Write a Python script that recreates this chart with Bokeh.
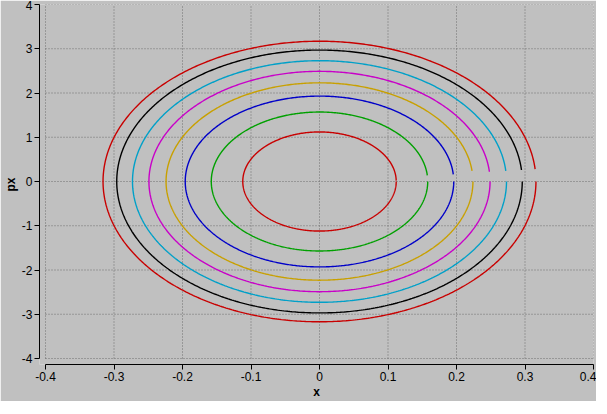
import numpy as np
from bokeh.plotting import figure
from bokeh.models import Range1d, FixedTicker
from bokeh.embed import file_html
from bokeh.resources import INLINE

# ---- data ----
x_amp = [0.112, 0.158, 0.196, 0.224, 0.249, 0.273, 0.296, 0.316]
p_amp = [1.12, 1.57, 1.93, 2.23, 2.49, 2.73, 2.97, 3.17]
p_end = [0.02, 0.14, 0.16, 0.24, 0.22, 0.24, 0.26, 0.28]
colors = ["#c80000", "#00a000", "#0000c8", "#c8a000", "#c800c8", "#00a0c8", "#000000", "#c80000"]

x_ticks = [-0.4, -0.3, -0.2, -0.1, 0.0, 0.1, 0.2, 0.3, 0.4]
x_tick_labels = ["-0.4", "-0.3", "-0.2", "-0.1", "0", "0.1", "0.2", "0.3", "0.4"]
y_ticks = [-4, -3, -2, -1, 0, 1, 2, 3, 4]
y_tick_labels = ["-4", "-3", "-2", "-1", "0", "1", "2", "3", "4"]

# ---- layout ----
BG = "#c0c0c0"
BL, BR, BT, BB = 34, 3, 4, 34
FW, FH = 591 - BL - BR, 398 - BT - BB
OFF = 6  # axis offset from data area, px

xs = (FW - OFF) / (x_ticks[-1] - x_ticks[0])
ys = (FH - OFF) / (y_ticks[-1] - y_ticks[0])
x_range = Range1d(x_ticks[0] - OFF / xs, x_ticks[-1])
y_range = Range1d(y_ticks[0] - OFF / ys, y_ticks[-1])

p = figure(frame_width=FW, frame_height=FH, x_range=x_range, y_range=y_range,
           output_backend="svg", toolbar_location=None,
           min_border_left=BL, min_border_right=BR, min_border_top=BT, min_border_bottom=BB)
p.background_fill_color = BG
p.border_fill_color = BG
p.outline_line_color = None
p.xgrid.visible = False
p.ygrid.visible = False

# dotted grid inside the data area
p.segment(x0=x_ticks, y0=[y_ticks[0]] * len(x_ticks), x1=x_ticks, y1=[y_ticks[-1]] * len(x_ticks),
          line_color="#6e6e6e", line_width=1, line_dash="1 2")
p.segment(x0=[x_ticks[0]] * len(y_ticks), y0=y_ticks, x1=[x_ticks[-1]] * len(y_ticks), y1=y_ticks,
          line_color="#6e6e6e", line_width=1, line_dash="1 2")

# phase-space trajectories
for xa, pa, pe, c in zip(x_amp, p_amp, p_end, colors):
    t = np.linspace(0, 2 * np.pi - np.arcsin(pe / pa), 600)
    p.line(xa * np.cos(t), -pa * np.sin(t), line_color=c, line_width=1.4)

font = "Liberation Sans"
for ax, ticks, labels, title in ((p.xaxis[0], x_ticks, x_tick_labels, "x"),
                                 (p.yaxis[0], y_ticks, y_tick_labels, "px")):
    ax.ticker = FixedTicker(ticks=ticks)
    ax.major_label_overrides = {t: l for t, l in zip(ticks, labels)}
    ax.bounds = (ticks[0], ticks[-1])
    ax.axis_line_color = "black"
    ax.axis_line_width = 1
    ax.major_tick_line_color = "black"
    ax.major_tick_out = 5
    ax.major_tick_in = 0
    ax.minor_tick_line_color = None
    ax.major_label_text_font = font
    ax.major_label_text_font_size = "12px"
    ax.major_label_text_color = "black"
    ax.major_label_standoff = 2
    ax.axis_label = title
    ax.axis_label_text_font = font
    ax.axis_label_text_font_size = "12px"
    ax.axis_label_text_font_style = "bold"
    ax.axis_label_text_color = "black"
    ax.axis_label_standoff = 1

p.yaxis[0].major_label_orientation = "horizontal"

open("out.html", "w").write(file_html(p, INLINE))
